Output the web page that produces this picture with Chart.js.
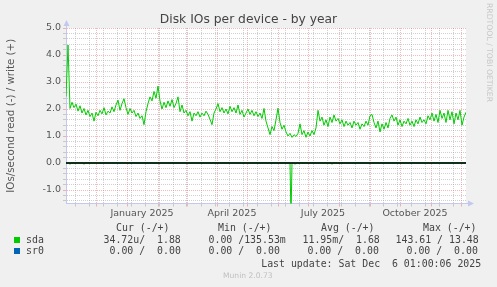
<!DOCTYPE html>
<html><head><meta charset="utf-8">
<script src="https://cdn.jsdelivr.net/npm/chart.js@4/dist/chart.umd.min.js"></script>
<style>
html,body{margin:0;padding:0;background:#f0f0f0;}
#wrap{position:relative;width:497px;height:287px;overflow:hidden;font-family:'DejaVu Sans',sans-serif;}
canvas{position:absolute;left:0;top:0;}
.t{position:absolute;white-space:pre;line-height:1;}
.m{font-family:'DejaVu Sans Mono',monospace;font-size:9.9px;color:#444;}
.sq{position:absolute;width:6px;height:6px;}
</style></head><body>
<div id="wrap">
<canvas id="c" width="497" height="287"></canvas>
<div class="t" style="left:0;width:497px;text-align:center;top:13.3px;font-size:12.3px;color:#444">Disk IOs per device - by year</div>
<div class="t" style="left:485px;top:3px;font-size:7.7px;color:#c8c8c8;writing-mode:vertical-rl;">RRDTOOL / TOBI OETIKER</div>
<div class="t m" style="left:116px;top:223px">Cur (-/+)</div>
<div class="t m" style="left:218px;top:223px">Min (-/+)</div>
<div class="t m" style="left:321px;top:223px">Avg (-/+)</div>
<div class="t m" style="left:423px;top:223px">Max (-/+)</div>
<div class="sq" style="left:14px;top:236.5px;background:#00cc00"></div>
<div class="t m" style="left:26px;top:234.6px">sda</div>
<div class="t m" style="left:103.5px;top:234.6px">34.72u/  1.88</div>
<div class="t m" style="left:208.5px;top:234.6px">0.00 /135.53m</div>
<div class="t m" style="left:302.5px;top:234.6px">11.95m/  1.68</div>
<div class="t m" style="left:395.5px;top:234.6px">143.61 / 13.48</div>
<div class="sq" style="left:14px;top:248px;background:#0066b3"></div>
<div class="t m" style="left:26px;top:246.3px">sr0</div>
<div class="t m" style="left:109.5px;top:246.3px">0.00 /  0.00</div>
<div class="t m" style="left:208.5px;top:246.3px">0.00 /  0.00</div>
<div class="t m" style="left:307.5px;top:246.3px">0.00 /  0.00</div>
<div class="t m" style="left:406.5px;top:246.3px">0.00 /  0.00</div>
<div class="t m" style="left:261.2px;top:259px">Last update: Sat Dec  6 01:00:06 2025</div>
<div class="t" style="left:223px;top:272.3px;font-size:7.6px;color:#c0c0c0">Munin 2.0.73</div>
</div>
<script>
// Day 0 = 1 Nov 2024, one value every 2 days until 6 Dec 2025 (day 400)
const stepDays = 2;
const sdaWrite = [
 2.46,4.37,2.02,2.25,2.05,2.18,1.92,2.12,1.85,2.02,
 1.78,1.95,1.72,1.85,1.55,1.88,1.75,1.95,1.82,2.05,
 1.78,1.92,1.85,2.08,1.90,2.15,2.33,1.95,2.20,2.38,
 2.05,1.80,2.02,1.85,1.95,1.72,1.85,1.65,1.75,1.42,
 1.90,2.20,2.45,2.30,2.65,2.40,2.85,2.30,2.00,2.25,
 2.05,2.30,2.10,2.35,2.05,2.20,2.45,1.90,2.15,1.85,
 1.95,1.75,1.90,1.55,1.85,1.75,1.90,1.70,1.85,1.75,
 1.92,1.80,1.62,1.42,1.85,2.00,2.20,1.90,2.05,1.85,
 2.00,1.82,2.10,1.90,2.05,1.85,2.15,1.80,1.95,1.70,
 1.85,2.00,1.80,1.95,1.75,1.90,1.72,1.85,1.65,2.02,
 1.55,1.30,1.05,1.35,1.20,1.60,2.03,1.50,1.25,1.40,
 1.15,1.00,1.10,0.95,1.05,0.98,1.10,1.45,1.05,1.20,
 0.95,1.15,1.00,1.20,1.05,1.30,1.95,1.55,1.70,1.40,
 1.60,1.35,1.70,1.50,1.78,1.55,1.65,1.45,1.60,1.35,
 1.55,1.40,1.50,1.30,1.55,1.40,1.50,1.25,1.45,1.35,
 1.55,1.40,1.75,1.80,1.50,1.30,1.55,1.15,1.45,1.25,
 1.50,1.30,1.65,1.78,1.55,1.70,1.40,1.60,1.35,1.55,
 1.45,1.65,1.40,1.55,1.35,1.60,1.45,1.70,1.50,1.60,
 1.45,1.75,1.60,1.85,1.55,1.80,1.50,1.95,1.65,1.85,
 1.50,1.95,1.60,1.90,1.45,1.85,1.60,1.95,1.40,1.70,
 1.88
];
const sdaReadDays   = [0, 3, 4, 5, 17, 18, 19, 224, 225, 226, 228, 229, 230, 265, 266, 267, 400];
const sdaReadValues = [0, 0, -0.05, 0, 0, -0.05, 0, 0, -2.0, 0, 0, -0.05, 0, 0, -0.05, 0, 0];
const sr0Days   = [0, 400];
const sr0Values = [0, 0];
const zeroRuleDays = [0, 400];
const zeroRuleValues = [0, 0];

const monthStartDays = [30, 61, 92, 120, 151, 181, 212, 242, 273, 304, 334, 365, 395];
const minorGridDays = [9,23,37,51,65,79,93,107,121,135,149,163,177,191,205,219,233,247,261,275,289,303,317,331,345,359,373,387];
const xLabelDays = [76, 166, 257, 349];
const xLabels = ['January 2025', 'April 2025', 'July 2025', 'October 2025'];
const yLabelValues = [-1, 0, 1, 2, 3, 4, 5];

const pts = (xs, ys) => ys.map((v, i) => ({x: xs[i], y: v}));
const writePts = sdaWrite.map((v, i) => ({x: i * stepDays, y: v}));

const MAJOR = 'rgba(225,90,90,0.42)';
const MINOR = 'rgba(150,150,150,0.45)';
const AXIS = '#c4c8ee';
const NONE = 'rgba(0,0,0,0)';

function xKind(v) {
  if (monthStartDays.includes(v)) return 'major';
  if (minorGridDays.includes(v)) return 'minor';
  return 'label';
}
function yKind(v) {
  if (Math.abs(v) < 1e-9) return 'zero';
  if (Math.abs(v - Math.round(v)) < 1e-9) return 'major';
  return 'minor';
}
const kindColor = k => (k === 'major' ? MAJOR : k === 'minor' ? MINOR : NONE);

const bgPlugin = {
  id: 'plotBg',
  beforeDraw(chart) {
    const {ctx, chartArea: a} = chart;
    ctx.save(); ctx.fillStyle = '#ffffff';
    ctx.fillRect(a.left, a.top, a.right - a.left, a.bottom - a.top);
    ctx.restore();
  }
};
const arrowPlugin = {
  id: 'axisArrows',
  afterDraw(chart) {
    const {ctx, chartArea: a} = chart;
    ctx.save();
    ctx.strokeStyle = AXIS; ctx.fillStyle = AXIS; ctx.lineWidth = 1;
    const xl = Math.round(a.left) + 0.5, yb = Math.round(a.bottom) - 0.5;
    ctx.beginPath(); ctx.moveTo(xl, a.top); ctx.lineTo(xl, a.top - 3); ctx.stroke();
    ctx.beginPath(); ctx.moveTo(xl - 3, a.top - 2); ctx.lineTo(xl + 3, a.top - 2); ctx.lineTo(xl, a.top - 8); ctx.closePath(); ctx.fill();
    ctx.beginPath(); ctx.moveTo(a.right, yb); ctx.lineTo(a.right + 3, yb); ctx.stroke();
    ctx.beginPath(); ctx.moveTo(a.right + 2, yb - 3); ctx.lineTo(a.right + 2, yb + 3); ctx.lineTo(a.right + 8, yb); ctx.closePath(); ctx.fill();
    ctx.restore();
  }
};

new Chart(document.getElementById('c'), {
  type: 'line',
  data: {
    datasets: [
      {label: 'zero', data: pts(zeroRuleDays, zeroRuleValues), borderColor: '#000000', borderWidth: 1.4, order: 0},
      {label: 'sda write', data: writePts, borderColor: '#00cc00', borderWidth: 1, order: 2},
      {label: 'sda read', data: pts(sdaReadDays, sdaReadValues), borderColor: '#00cc00', borderWidth: 1, order: 2},
      {label: 'sr0', data: pts(sr0Days, sr0Values), borderColor: '#0066b3', borderWidth: 1, order: 3}
    ]
  },
  options: {
    responsive: false, animation: false, devicePixelRatio: 1,
    parsing: false,
    elements: {point: {radius: 0}, line: {tension: 0}},
    layout: {padding: {top: 28, right: 31, bottom: 63.5, left: 0}},
    plugins: {legend: {display: false}, tooltip: {enabled: false}, title: {display: false}},
    scales: {
      x: {
        type: 'linear', min: 0, max: 400,
        afterBuildTicks: s => { s.ticks = [...monthStartDays, ...minorGridDays, ...xLabelDays].map(v => ({value: v})); },
        afterFit: s => { s.height = 20; },
        ticks: {
          autoSkip: false, maxRotation: 0, minRotation: 0, padding: 1,
          color: '#555', font: {family: 'DejaVu Sans', size: 9.5},
          callback: v => { const i = xLabelDays.indexOf(v); return i >= 0 ? xLabels[i] : ''; }
        },
        grid: {
          lineWidth: 1, tickLength: 3,
          color: c => kindColor(xKind(c.tick.value)),
          tickColor: c => kindColor(xKind(c.tick.value))
        },
        border: {color: AXIS, width: 1, dash: [1, 1]}
      },
      y: {
        type: 'linear', min: -1.5, max: 5,
        afterBuildTicks: s => { const t = []; for (let i = -7; i <= 25; i++) t.push({value: i / 5}); s.ticks = t; },
        afterFit: s => { s.width = 66; },
        ticks: {
          autoSkip: false, padding: 2, color: '#555', font: {family: 'DejaVu Sans', size: 9.5},
          callback: v => yLabelValues.some(l => Math.abs(l - v) < 1e-9) ? v.toFixed(1) : ''
        },
        grid: {
          lineWidth: 1, tickLength: 3,
          color: c => kindColor(yKind(c.tick.value)),
          tickColor: c => kindColor(yKind(c.tick.value))
        },
        border: {color: AXIS, width: 1, dash: [1, 1]},
        title: {display: true, text: 'IOs/second read (-) / write (+)', color: '#555',
                font: {family: 'DejaVu Sans', size: 10.3}, padding: {top: 5, bottom: 0}}
      }
    }
  },
  plugins: [bgPlugin, arrowPlugin]
});
</script>
</body></html>
